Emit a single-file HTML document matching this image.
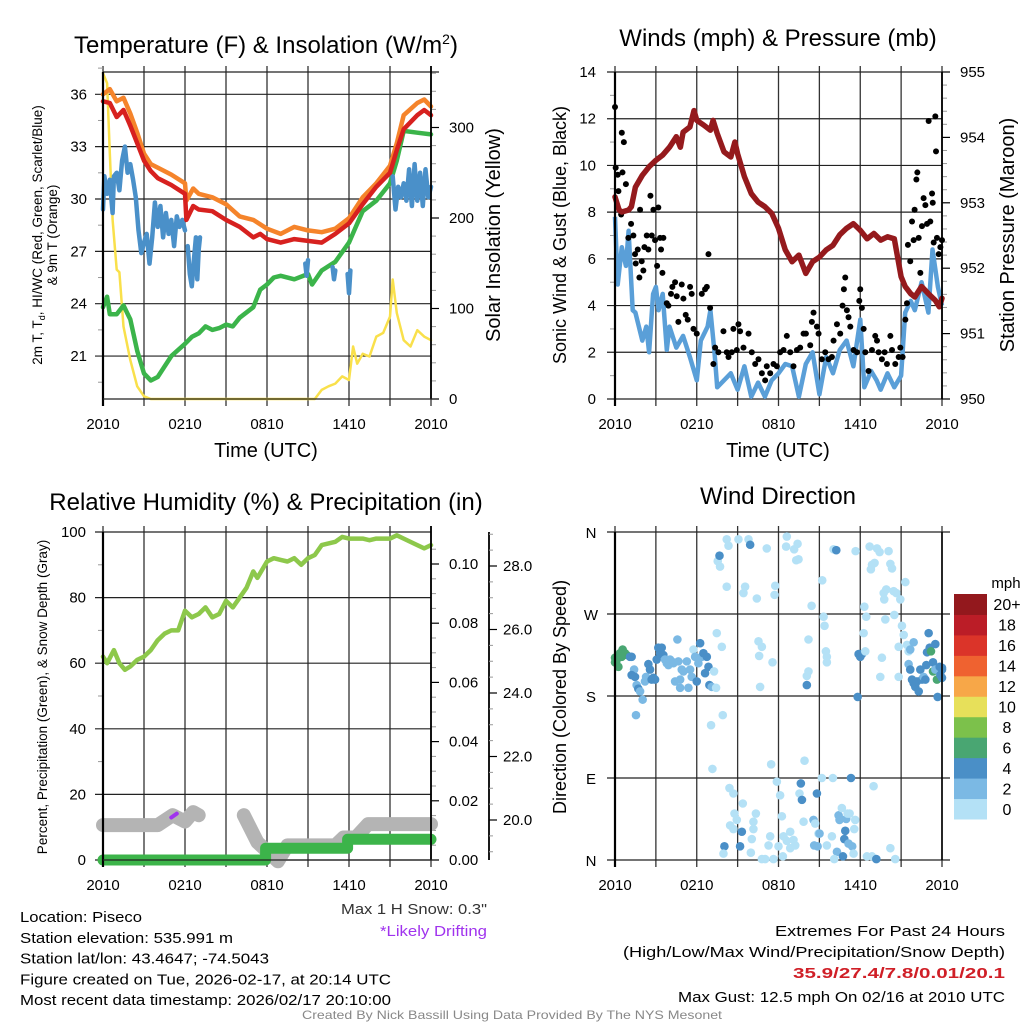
<!DOCTYPE html>
<html><head><meta charset="utf-8"><title>Mesonet Station Meteogram</title>
<style>
html,body{margin:0;padding:0;background:#fff;}
svg{display:block;font-family:"Liberation Sans",Arial,sans-serif;}
</style></head>
<body>
<svg id="chart" xmlns="http://www.w3.org/2000/svg" width="1024" height="1024" viewBox="0 0 1024 1024">
<rect x="0" y="0" width="1024" height="1024" fill="#fff"/>
</svg>
<script>
// ===== data =====
const xTickHours = [0, 6, 12, 18, 24];
const xTickLabels = ["2010", "0210", "0810", "1410", "2010"];

const tempTicks = [21, 24, 27, 30, 33, 36];
const insolTicks = [0, 100, 200, 300];
const redTimes = [0,0.5,1,1.5,2,2.5,3,3.5,4,5,6,6.1,6.6,7,8,9,10,11,11.5,12,13,14,15,16,17,18,19,20,21,21.5,22,23,23.5,24];
const redTemps = [35.6,35.5,34.7,35.1,34.2,33.2,32.2,31.6,31.2,30.8,30.3,28.8,29.6,29.4,29.3,28.8,28.4,27.8,28.0,27.7,27.5,27.7,27.6,27.5,28.0,28.6,29.7,30.7,31.5,32.8,34.0,34.8,35.1,34.8];
const orangeTimes = [0,0.5,1,1.5,2,2.5,3,3.5,4,5,6,6.1,6.6,7,8,9,10,11,12,13,14,15,16,17,18,19,20,21,21.5,22,23,23.5,24];
const orangeTemps = [36.0,36.3,35.6,35.8,34.9,33.8,32.6,32.0,31.8,31.4,30.9,29.9,30.6,30.3,30.1,29.7,29.0,28.8,28.3,28.0,28.4,28.2,28.1,28.3,28.9,30.1,30.9,31.9,33.2,34.8,35.5,35.7,35.3];
const dewTimes = [0,0.3,0.5,1,1.5,2,2.5,3,3.5,4,5,6,6.5,7,7.5,8,8.5,9,9.5,10,11,11.5,12,12.5,13,14,15,15.3,16,17,18,18.5,19,20,21,21.5,22,23,24];
const dewTemps = [23.8,24.4,23.4,23.4,23.9,23.1,21.3,20.0,19.6,19.8,21.0,21.7,22.1,22.3,22.7,22.5,22.6,22.8,22.7,23.2,23.8,24.8,25.1,25.5,25.6,25.4,25.7,25.1,25.9,26.4,27.5,28.4,29.3,29.9,30.9,32.2,33.9,33.8,33.7];
const wcTimes = [0,0.1,0.3,0.5,0.7,0.8,1,1.2,1.4,1.6,1.8,2,2.2,2.4,2.6,2.8,3,3.2,3.4,3.6,3.8,4,4.2,4.4,4.6,4.8,5,5.2,5.4,5.6,5.8,6,null,6.2,6.35,6.5,6.65,6.8,6.9,7.0,7.1,null,14.8,14.9,15.0,null,16.8,16.9,17.0,null,17.9,18.0,18.1,null,21.2,21.4,21.6,21.8,22,22.2,22.4,22.6,22.8,23,23.2,23.4,23.6,23.8,24];
const wcTemps = [29.4,31.3,30.3,31.1,29.2,31.3,31.5,30.5,32.2,33.0,31.5,32.0,31.1,30.1,28.2,26.9,27.5,28.0,26.3,27.8,29.8,28.4,29.6,27.8,29.2,28.0,28.8,27.3,29.0,28.4,28.8,28.2,null,27.3,25.7,25.0,26.5,27.8,25.4,27.1,27.8,null,26.3,25.6,26.5,null,26.1,25.4,25.9,null,25.7,24.6,25.9,null,31.3,29.4,30.7,30.1,30.9,29.9,31.7,29.6,32.0,29.9,31.5,29.6,31.7,30.1,30.7];
const solarTimes = [0,0.3,0.5,0.7,1,1.2,1.5,2,2.5,3,3.5,15.5,16,16.5,17,17.5,18,18.3,18.6,19,19.5,20,20.5,21,21.2,21.5,22,22.5,23,23.5,24];
const solarValues = [360,349,272,198,143,140,80,43,14,3,0,0,10,14,17,25,21,58,39,50,47,69,73,91,132,95,65,58,76,69,65];

const windTicks = [0, 2, 4, 6, 8, 10, 12, 14];
const presTicks = [950, 951, 952, 953, 954, 955];
const presTimes = [0,0.3,0.5,1,1.2,1.5,2,2.5,3,3.5,4,4.5,4.8,5,5.5,5.8,6,6.5,7,7.2,7.5,8,8.5,8.8,9,9.5,10,10.5,11,11.5,12,12.5,13,13.5,14,14.5,15,15.5,16,16.5,17,17.5,18,18.5,19,19.5,20,20.5,21,21.3,21.7,22,22.5,23,23.5,23.8,24];
const presValues = [953.09,952.89,952.86,952.89,952.94,953.24,953.42,953.55,953.65,953.73,953.85,954.01,953.85,954.08,954.16,954.41,954.26,954.19,954.11,954.26,954.06,953.78,953.70,953.93,953.75,953.40,953.14,953.01,952.94,952.84,952.61,952.28,952.10,952.20,951.92,952.10,952.17,952.28,952.35,952.51,952.61,952.68,952.58,952.45,952.53,952.43,952.48,952.45,951.87,951.72,951.61,951.56,951.72,951.61,951.51,951.41,951.54];
const windTimes = [0,0.2,0.5,0.8,1,1.3,1.5,2,2.3,2.5,2.8,3,3.2,3.5,3.8,4,4.5,5,5.5,6,6.3,6.8,7,7.3,7.5,8,8.5,9,9.5,10,10.5,11,11.5,12,12.5,13,13.5,14,14.5,15,15.5,16,16.5,17,17.5,18,18.3,18.8,19.2,19.5,20,20.5,21,21.3,21.7,22,22.5,23,23.3,23.7,24];
const windSpeeds = [7.8,4.9,6.5,5.7,7.2,3.8,3.7,2.5,3.1,2.0,4.5,4.8,3.8,4.5,2.1,3.1,2.2,2.7,1.8,0.8,2.5,3.1,3.8,2.0,0.5,0.8,1.1,0.4,1.4,0.1,0.7,0.1,0.8,1.1,1.5,1.4,0.1,1.5,2.0,0.2,1.8,1.1,2.1,2.5,1.4,3.4,0.5,1.2,0.8,0.4,1.1,0.5,1.0,3.7,4.2,3.8,5.0,3.7,6.4,4.8,4.0];
const gustTimes = [0,0.05,0.2,0.25,0.45,0.5,0.65,0.55,0.8,0.98,1.18,1.35,1.47,1.52,1.67,1.79,1.84,1.96,2.08,2.16,2.33,2.45,2.6,2.7,2.82,2.94,3.09,3.18,3.31,3.38,3.48,3.55,3.8,3.92,4.11,4.21,4.41,4.53,4.65,4.9,5.02,5.19,5.34,5.51,5.63,5.76,6.0,6.37,6.61,6.74,6.86,6.98,7.22,7.35,7.59,7.96,8.2,8.33,8.57,8.69,8.94,9.06,9.18,9.43,9.8,10.04,10.29,10.53,10.78,11.02,11.14,11.39,11.63,11.88,12.12,12.37,12.61,12.86,13.1,13.35,13.59,13.84,14.01,14.33,14.45,14.57,14.82,14.94,15.18,15.43,15.67,15.92,16.04,16.29,16.53,16.7,16.8,16.9,17.02,17.14,17.27,17.51,17.76,17.93,18.0,18.12,18.25,18.37,18.61,18.86,19.1,19.23,19.35,19.59,19.79,19.96,20.21,20.33,20.57,20.82,20.94,21.11,21.31,21.43,21.5,21.67,21.8,21.92,21.99,22.12,22.19,22.29,22.41,22.53,22.65,22.78,22.9,23.02,23.14,23.27,23.32,23.39,23.51,23.56,23.63,23.76,23.88,24.0];
const gustSpeeds = [12.5,9.9,9.6,8.9,7.9,11.4,11.0,9.7,9.2,6.9,7.5,7.0,6.2,5.8,6.4,5.2,8.1,5.9,5.5,6.5,7.0,6.4,8.7,7.0,8.1,6.8,5.7,8.2,6.9,6.4,5.4,6.9,4.1,4.0,4.5,4.8,5.0,4.4,3.3,4.9,4.3,3.6,3.4,4.8,4.5,3.0,2.8,4.5,4.7,4.8,6.2,3.9,1.5,2.2,2.0,2.9,2.0,1.8,2.0,3.0,2.1,3.2,2.9,2.2,2.8,2.0,1.5,1.7,1.1,0.8,1.4,1.1,1.5,1.4,2.0,2.1,2.7,2.0,1.4,2.1,2.2,2.8,2.8,2.3,3.3,3.7,3.1,2.8,1.7,2.0,1.7,1.8,2.5,3.2,2.8,4.0,4.7,5.2,3.8,3.5,3.1,2.1,2.0,4.2,4.7,3.9,3.0,2.0,1.2,2.1,2.7,2.5,2.0,1.7,2.0,1.5,2.7,2.1,1.5,1.8,2.2,1.8,3.4,4.1,6.6,5.9,7.6,6.8,8.1,9.4,9.7,6.9,5.4,7.4,8.6,8.3,7.5,11.9,7.6,8.8,8.4,6.7,12.1,10.6,6.9,6.2,6.5,6.8];

const rhTicks = [0, 20, 40, 60, 80, 100];
const precipTicks = [0, 0.02, 0.04, 0.06, 0.08, 0.10];
const precipTickLabels = ["0.00", "0.02", "0.04", "0.06", "0.08", "0.10"];
const snowTicks = [20, 22, 24, 26, 28];
const snowTickLabels = ["20.0", "22.0", "24.0", "26.0", "28.0"];
const rhTimes = [0,0.3,0.8,1.2,1.6,2,2.5,3,3.5,4,4.5,5,5.5,6,6.5,7,7.5,8,8.5,9,9.5,10,10.5,11,11.3,12,12.5,13,13.5,14,14.5,15,15.5,16,17,17.5,18,19,19.5,20,21,21.5,22,23,23.5,24];
const rhValues = [62,60,64,60,58,59,61,62,64,67,69,70,70,76,74,75,77,74,75,79,77,80,83,88,86,91,92,91.5,91,92,90,92,93,96,97,98.5,98,98,97.5,98,98,99,98,96,95,96];
const precipTimes = [0, 11.9, 11.9, 17.9, 17.9, 24];
const precipValues = [0, 0, 0.004, 0.004, 0.007, 0.007];
const snowTimes = [0,4.0,5.1,6.0,6.6,7.0,null,10.3,11.3,12.8,13.5,17.0,17.6,18.5,19.4,24];
const snowValues = [19.84,19.84,20.15,19.95,20.25,20.15,null,20.15,19.3,18.7,19.2,19.2,19.45,19.45,19.87,19.87];
const driftTimes = [5.0, 5.4];
const driftValues = [20.08, 20.2];

const dirTicks = [0, 90, 180, 270, 360];
const dirTickLabels = ["N", "E", "S", "W", "N"];
const dirTimes = [0,0.1,0.25,0.37,0.56,0.73,0.86,0.49,0.0,1.1,1.22,1.4,1.22,1.47,1.59,1.71,1.84,2.03,1.54,2.2,2.28,2.45,2.57,2.69,2.82,2.94,3.06,3.18,3.31,3.43,3.55,3.67,3.8,3.92,4.04,4.16,4.29,4.41,4.58,4.65,4.78,4.78,4.9,5.02,5.27,5.39,5.51,5.63,5.76,5.88,6.0,6.12,6.25,6.37,6.49,6.61,6.74,6.86,6.93,7.1,7.27,7.42,7.47,7.84,7.91,7.05,7.15,7.54,7.67,7.71,8.2,8.33,8.2,8.4,8.69,8.77,8.94,8.45,8.69,9.31,9.18,9.06,9.8,9.92,9.55,9.43,9.38,10.41,10.53,10.78,10.58,10.65,11.56,11.46,10.34,10.16,10.16,10.04,9.97,8.03,7.96,10.78,11.02,11.14,11.63,11.39,11.27,12.0,11.76,11.71,11.88,12.12,12.25,12.32,12.37,12.61,12.86,12.86,13.1,13.23,12.61,12.56,13.15,13.4,13.3,13.47,13.54,13.64,13.72,13.84,13.91,14.2,14.2,14.08,14.08,14.43,14.57,14.62,14.69,14.82,14.94,15.01,14.87,15.31,15.38,15.21,15.18,15.48,15.55,15.55,15.55,15.92,15.99,16.04,16.24,16.29,16.09,16.41,16.48,16.53,16.65,16.73,16.83,16.9,16.97,17.07,17.22,17.14,17.32,17.41,17.51,17.63,17.56,17.66,17.81,17.88,18.0,18.12,18.25,18.37,18.44,18.3,18.69,18.86,18.78,19.05,18.98,18.86,18.49,19.18,19.23,19.42,19.59,19.47,19.72,19.76,19.91,19.84,20.08,20.21,20.33,20.45,20.5,20.65,20.94,21.06,21.19,21.31,20.82,20.82,20.21,20.57,21.43,21.55,21.67,21.92,21.55,21.67,21.8,21.92,22.04,22.16,22.29,22.41,22.53,22.65,22.78,22.85,22.9,23.02,23.1,23.19,23.34,23.34,23.51,23.51,23.63,23.68,23.83,23.88,24.0,24.0,24.0];
const dirDegrees = [222,218,212,227,231,227,225,223,217,223,223,209,203,201,192,188,185,176,159,196,201,215,209,198,200,198,220,233,227,233,225,220,216,214,220,218,216,196,242,218,198,189,209,207,218,189,209,201,231,223,196,216,238,223,227,205,223,212,192,190,207,189,249,234,159,148,100,328,334,322,352,345,300,79,73,51,44,38,34,31,15,352,352,346,300,293,62,287,240,234,224,190,217,105,51,42,34,23,8,15,7,1,1,342,1,26,16,15,301,291,86,71,48,4,26,21,13,31,22,16,355,344,341,347,329,330,73,84,66,42,109,242,207,202,192,279,44,16,40,73,29,29,15,267,257,307,90,229,223,217,16,26,90,341,340,9,1,49,44,45,57,4,23,32,45,51,51,18,90,15,7,44,34,339,179,226,223,226,249,229,267,278,344,324,319,326,81,4,4,1,342,338,222,201,293,286,297,264,339,325,320,295,269,293,286,257,247,305,201,234,13,1,236,229,231,239,215,209,198,194,190,196,185,209,198,201,198,214,228,249,233,229,217,207,237,209,198,179,212,203,209,200,211];
const dirSpeeds = [7,7,7,7,7,7,7,7,7,5,5,3,5,5,3,5,3,3,3,3,3,5,5,5,5,5,5,5,5,5,5,3,3,3,3,3,3,3,3,3,3,3,3,3,3,3,3,3,1,3,5,3,5,3,5,5,5,5,5,3,1,1,1,1,1,1,1,1,5,1,1,1,1,1,1,1,1,1,1,5,5,1,1,5,1,1,1,1,1,1,1,1,1,1,1,1,1,1,1,5,1,1,1,1,1,1,1,1,1,1,1,1,1,1,1,1,1,1,1,1,1,1,1,1,1,1,1,5,5,1,1,1,1,1,5,1,3,3,1,5,1,3,3,1,1,1,1,1,1,1,1,1,1,1,5,3,1,3,3,3,1,5,5,5,3,1,1,3,5,3,1,1,1,1,5,5,5,5,1,1,1,1,1,1,1,1,1,1,1,5,1,1,1,1,1,1,1,1,1,1,1,1,1,1,1,1,1,1,1,1,1,1,1,1,3,3,3,5,5,5,5,5,5,5,5,3,5,5,5,5,5,7,5,7,5,3,7,5,5,5,5,5,5,5,5];

const cbLabels = ["0", "2", "4", "6", "8", "10", "12", "14", "16", "18", "20+"];
const cbColors = ["#b4e1f6", "#7bb9e4", "#4a8fc7", "#49a672", "#7cc14b", "#e7e05a", "#f7a748", "#ef6230", "#db3429", "#bb1d27", "#93181d"];

// ===== helpers =====
const NS = "http://www.w3.org/2000/svg";
const svg = document.getElementById("chart");
function mk(tag, attrs, parent) {
  const e = document.createElementNS(NS, tag);
  for (const k in attrs) e.setAttribute(k, attrs[k]);
  (parent || svg).appendChild(e);
  return e;
}
function txt(x, y, s, size, anchor, parent, extra) {
  const a = {x: x, y: y, "font-size": size, "text-anchor": anchor || "middle", fill: "#000"};
  if (extra) for (const k in extra) a[k] = extra[k];
  const e = mk("text", a, parent);
  e.textContent = s;
  return e;
}
function pathFrom(ts, vs, xf, yf) {
  let d = "", pen = false;
  for (let i = 0; i < ts.length; i++) {
    if (ts[i] === null || vs[i] === null) { pen = false; continue; }
    d += (pen ? "L" : "M") + xf(ts[i]).toFixed(1) + " " + yf(vs[i]).toFixed(1);
    pen = true;
  }
  return d;
}
function frame(g, x0, x1, y0, y1) {
  for (let k = 0; k <= 8; k++) {
    const x = x0 + k * (x1 - x0) / 8;
    const l = mk("line", {x1: x, x2: x, y1: y0 - 6, y2: y1 + 7, stroke: "#333", "stroke-width": 1.3}, g);
    
    
  }
  for (let i = 0; i < xTickHours.length; i++) {
    const x = x0 + xTickHours[i] / 24 * (x1 - x0);
    const t = txt(x, y1 + 30, xTickLabels[i], 15, "middle", g);
    
    
  }
}
function hgrid(g, y, x0, x1, leftTick, rightTick) {
  const l = mk("line", {x1: x0 - leftTick, x2: x1 + rightTick, y1: y, y2: y, stroke: "#222", "stroke-width": 1.2}, g);
  
  
}
function minor(g, x, y, len) {
  const l = mk("line", {x1: x, x2: x + len, y1: y, y2: y, stroke: "#999", "stroke-width": 1}, g);
  
  
}
function axisLine(g, x, y0, y1, w) {
  const l = mk("line", {x1: x, x2: x, y1: y0, y2: y1, stroke: "#000", "stroke-width": w || 2}, g);
  
  
}

// ===== Panel 1: Temperature =====
(function () {
  const x0 = 103, x1 = 431, y0 = 72, y1 = 399;
  const g = mk("g", {});
  
  
  const xs = t => x0 + t / 24 * (x1 - x0);
  const yT = v => 94.3 + (36 - v) * 17.45;
  const yI = w => y1 - w * 0.905;
  const title = txt(266, 53, "Temperature (F) & Insolation (W/m", 24, "middle", g);
  const sup = mk("tspan", {dy: -9, "font-size": 14}, title); sup.textContent = "2";
  const cl = mk("tspan", {dy: 9, "font-size": 24}, title); cl.textContent = ")";
  
  
  frame(g, x0, x1, y0, y1);
  hgrid(g, y0, x0, x1, 0, 8);
  tempTicks.forEach(v => {
    hgrid(g, yT(v), x0, x1, 8, 0);
    const t = txt(87, yT(v) + 5, String(v), 15, "end", g);
    
    
  });
  for (let v = 19.5; v <= 37.5; v += 3) minor(g, x0 - 5, yT(v), 5);
  insolTicks.forEach(w => {
    const l = mk("line", {x1: x1, x2: x1 + 8, y1: yI(w), y2: yI(w), stroke: "#000", "stroke-width": 1.2}, g);
    
    
    const t = txt(449, yI(w) + 5, String(w), 15, "start", g);
    
    
  });
  for (let w = 20; w <= 360; w += 20) if (w % 100) minor(g, x1, yI(w), 5);
  const series = [
    [solarTimes, solarValues, yI, "#f9e04b", 2.5, "insolation-line"],
    [dewTimes, dewTemps, yT, "#3bb44a", 4.5, "dewpoint-line"],
    [wcTimes, wcTemps, yT, "#4a90c9", 4.5, "windchill-line"],
    [orangeTimes, orangeTemps, yT, "#f5842b", 4.5, "temp-9m-line"],
    [redTimes, redTemps, yT, "#d7211f", 4.5, "temp-2m-line"]
  ];
  series.forEach(s => {
    const p = mk("path", {d: pathFrom(s[0], s[1], xs, s[2]), fill: "none", stroke: s[3], "stroke-width": s[4], "stroke-linejoin": "round", "stroke-linecap": "round"}, g);
    
    
  });
  axisLine(g, x0, y0, y1 + 7, 2.2);
  axisLine(g, x1, y0 - 6, y1, 1.8);
  hgrid(g, y1, x0, x1, 0, 8);
  const lt = txt(0, 0, "2m T, T", 13.5, "middle", g, {transform: "translate(42,235) rotate(-90)"});
  const sub = mk("tspan", {dy: 3, "font-size": 9}, lt); sub.textContent = "d";
  const rest = mk("tspan", {dy: -3, "font-size": 13.5}, lt); rest.textContent = ", HI/WC (Red, Green, Scarlet/Blue)";
  
  
  const lt2 = txt(0, 0, "& 9m T (Orange)", 13.5, "middle", g, {transform: "translate(57,235) rotate(-90)"});
  
  
  const rt = txt(0, 0, "Solar Insolation (Yellow)", 20, "middle", g, {transform: "translate(500,235) rotate(-90)"});
  
  
  const xt = txt(266, 457, "Time (UTC)", 20, "middle", g);
  
  
})();

// ===== Panel 2: Winds & Pressure =====
(function () {
  const x0 = 615, x1 = 942, y0 = 72, y1 = 399;
  const g = mk("g", {});
  
  
  const xs = t => x0 + t / 24 * (x1 - x0);
  const yW = m => y1 - m * (y1 - y0) / 14;
  const yP = p => y1 - (p - 950) * (y1 - y0) / 5;
  const title = txt(778, 46, "Winds (mph) & Pressure (mb)", 24, "middle", g);
  
  
  frame(g, x0, x1, y0, y1);
  windTicks.forEach(v => {
    hgrid(g, yW(v), x0, x1, 8, 0);
    const t = txt(596, yW(v) + 5, String(v), 15, "end", g);
    
    
  });
  for (let v = 1; v < 14; v += 2) minor(g, x0 - 5, yW(v), 5);
  presTicks.forEach(p => {
    const l = mk("line", {x1: x1, x2: x1 + 8, y1: yP(p), y2: yP(p), stroke: "#000", "stroke-width": 1.2}, g);
    
    
    const t = txt(960, yP(p) + 5, String(p), 15, "start", g);
    
    
  });
  for (let p = 950.2; p < 955; p += 0.2) if (Math.abs(p - Math.round(p)) > 0.05) minor(g, x1, yP(p), 5);
  const wl = mk("path", {d: pathFrom(windTimes, windSpeeds, xs, yW), fill: "none", stroke: "#5a9fd8", "stroke-width": 4.5, "stroke-linejoin": "round"}, g);
  
  
  for (let i = 0; i < gustTimes.length; i++) {
    const c = mk("circle", {cx: xs(gustTimes[i]), cy: yW(gustSpeeds[i]), r: 3, fill: "#000"}, g);
    
    
  }
  const pl = mk("path", {d: pathFrom(presTimes, presValues, xs, yP), fill: "none", stroke: "#951a1d", "stroke-width": 5.5, "stroke-linejoin": "round", "stroke-linecap": "round"}, g);
  
  
  axisLine(g, x0, y0, y1 + 7, 2.2);
  axisLine(g, x1, y0, y1, 1.8);
  const lt = txt(0, 0, "Sonic Wind & Gust (Blue, Black)", 18, "middle", g, {transform: "translate(566,235) rotate(-90)"});
  
  
  const rt = txt(0, 0, "Station Pressure (Maroon)", 20, "middle", g, {transform: "translate(1014,235) rotate(-90)"});
  
  
  const xt = txt(778, 457, "Time (UTC)", 20, "middle", g);
  
  
})();

// ===== Panel 3: RH & Precip =====
(function () {
  const x0 = 103, x1 = 431, y0 = 532, y1 = 860;
  const g = mk("g", {});
  
  
  const xs = t => x0 + t / 24 * (x1 - x0);
  const yR = r => y1 - r * (y1 - y0) / 100;
  const yPr = p => y1 - p * 2960;
  const yS = s => 820 - (s - 20) * 31.75;
  const title = txt(266, 510, "Relative Humidity (%) & Precipitation (in)", 24, "middle", g);
  
  
  frame(g, x0, x1, y0, y1);
  rhTicks.forEach(v => {
    hgrid(g, yR(v), x0, x1, 8, 0);
    const t = txt(86, yR(v) + 5, String(v), 15, "end", g);
    
    
  });
  for (let v = 10; v < 100; v += 20) minor(g, x0 - 5, yR(v), 5);
  precipTicks.forEach((p, i) => {
    const l = mk("line", {x1: x1, x2: x1 + 8, y1: yPr(p), y2: yPr(p), stroke: "#000", "stroke-width": 1.2}, g);
    
    
    const t = txt(449, yPr(p) + 5, precipTickLabels[i], 15, "start", g);
    
    
  });
  for (let p = 0.005; p < 0.11; p += 0.005) if (Math.abs(p / 0.02 - Math.round(p / 0.02)) > 0.01) minor(g, x1, yPr(p), 5);
  axisLine(g, 489, y0, y1, 1.8);
  snowTicks.forEach((s, i) => {
    const l = mk("line", {x1: 489, x2: 497, y1: yS(s), y2: yS(s), stroke: "#000", "stroke-width": 1.2}, g);
    
    
    const t = txt(503, yS(s) + 5, snowTickLabels[i], 15, "start", g);
    
    
  });
  for (let s = 19; s < 29.5; s += 0.5) if (Math.abs(s / 2 - Math.round(s / 2)) > 0.01) minor(g, 489, yS(s), 4);
  const sl = mk("path", {d: pathFrom(snowTimes, snowValues, xs, yS), fill: "none", stroke: "#b4b4b4", "stroke-width": 14, "stroke-linejoin": "round", "stroke-linecap": "round"}, g);
  
  
  const dl = mk("path", {d: pathFrom(driftTimes, driftValues, xs, yS), fill: "none", stroke: "#a033ee", "stroke-width": 4, "stroke-linecap": "round"}, g);
  
  
  const pr = mk("path", {d: pathFrom(precipTimes, precipValues, xs, yPr), fill: "none", stroke: "#3cb44a", "stroke-width": 11, "stroke-linejoin": "round", "stroke-linecap": "round"}, g);
  
  
  const rl = mk("path", {d: pathFrom(rhTimes, rhValues, xs, yR), fill: "none", stroke: "#8dc84b", "stroke-width": 4.5, "stroke-linejoin": "round", "stroke-linecap": "round"}, g);
  
  
  axisLine(g, x0, y0, y1 + 7, 2.2);
  axisLine(g, x1, y0 - 6, y1, 1.8);
  hgrid(g, y1, x0, x1, 0, 8);
  const lt = txt(0, 0, "Percent, Precipitation (Green), & Snow Depth (Gray)", 13.5, "middle", g, {transform: "translate(47,697) rotate(-90)"});
  
  
})();

// ===== Panel 4: Wind Direction =====
(function () {
  const x0 = 615, x1 = 942, y0 = 532, y1 = 860;
  const g = mk("g", {});
  
  
  const xs = t => x0 + t / 24 * (x1 - x0);
  const yD = d => y1 - d * (y1 - y0) / 360;
  const title = txt(778, 504, "Wind Direction", 24, "middle", g);
  
  
  frame(g, x0, x1, y0, y1);
  dirTicks.forEach((d, i) => {
    hgrid(g, yD(d), x0, x1, 8, 8);
    const t = txt(591, yD(d) + 6, dirTickLabels[i], 15, "middle", g);
    
    
  });
  for (let i = 0; i < dirTimes.length; i++) {
    const bin = Math.min(10, Math.floor(dirSpeeds[i] / 2));
    const c = mk("circle", {cx: xs(dirTimes[i]), cy: yD(dirDegrees[i]), r: 4.3, fill: cbColors[bin]}, g);
    
    
  }
  axisLine(g, x0, y0, y1 + 7, 2.2);
  axisLine(g, x1, y0, y1, 1.6);
  const lt = txt(0, 0, "Direction (Colored By Speed)", 18, "middle", g, {transform: "translate(566,697) rotate(-90)"});
  
  
  // colorbar
  const cb = mk("g", {}, g);
  
  
  const top = 594, bot = 819, h = (bot - top) / cbColors.length;
  for (let i = 0; i < cbColors.length; i++) {
    const yy = bot - (i + 1) * h;
    const r = mk("rect", {x: 954, y: yy, width: 33, height: h + 0.5, fill: cbColors[i]}, cb);
    
    
    const t = txt(1007, yy + h / 2 + 6, cbLabels[i], 16, "middle", cb);
    
    
  }
  const u = txt(1006, 588, "mph", 15, "middle", cb);
  
  
})();

// ===== Footer text =====
(function () {
  const g = mk("g", {});
  
  
  const leftLines = [
    ["Location: Piseco", 122],
    ["Station elevation: 535.991 m", 213],
    ["Station lat/lon: 43.4647; -74.5043", 249],
    ["Figure created on Tue, 2026-02-17, at 20:14 UTC", 371],
    ["Most recent data timestamp: 2026/02/17 20:10:00", 371]
  ];
  leftLines.forEach((l, i) => {
    const t = txt(20, 922 + i * 20.8, l[0], 15, "start", g, {textLength: l[1], lengthAdjust: "spacingAndGlyphs"});
    
    
  });
  const ms = txt(487, 914, "Max 1 H Snow: 0.3\"", 15, "end", g, {fill: "#333", textLength: 146, lengthAdjust: "spacingAndGlyphs"});
  
  
  const dr = txt(487, 936, "*Likely Drifting", 15, "end", g, {fill: "#a033ee", textLength: 107, lengthAdjust: "spacingAndGlyphs"});
  
  
  const right = [
    ["Extremes For Past 24 Hours", 230, 936, "#000", "normal"],
    ["(High/Low/Max Wind/Precipitation/Snow Depth)", 382, 957, "#000", "normal"],
    ["35.9/27.4/7.8/0.01/20.1", 212, 978, "#d01f27", "bold"],
    ["Max Gust: 12.5 mph On 02/16 at 2010 UTC", 327, 1002, "#000", "normal"]
  ];
  right.forEach(r => {
    const t = txt(1005, r[2], r[0], 15, "end", g, {fill: r[3], "font-weight": r[4], textLength: r[1], lengthAdjust: "spacingAndGlyphs"});
    
    
  });
  const cr = txt(512, 1019, "Created By Nick Bassill Using Data Provided By The NYS Mesonet", 12, "middle", g, {fill: "#888", textLength: 420, lengthAdjust: "spacingAndGlyphs"});
  
  
})();
</script>
</body></html>
